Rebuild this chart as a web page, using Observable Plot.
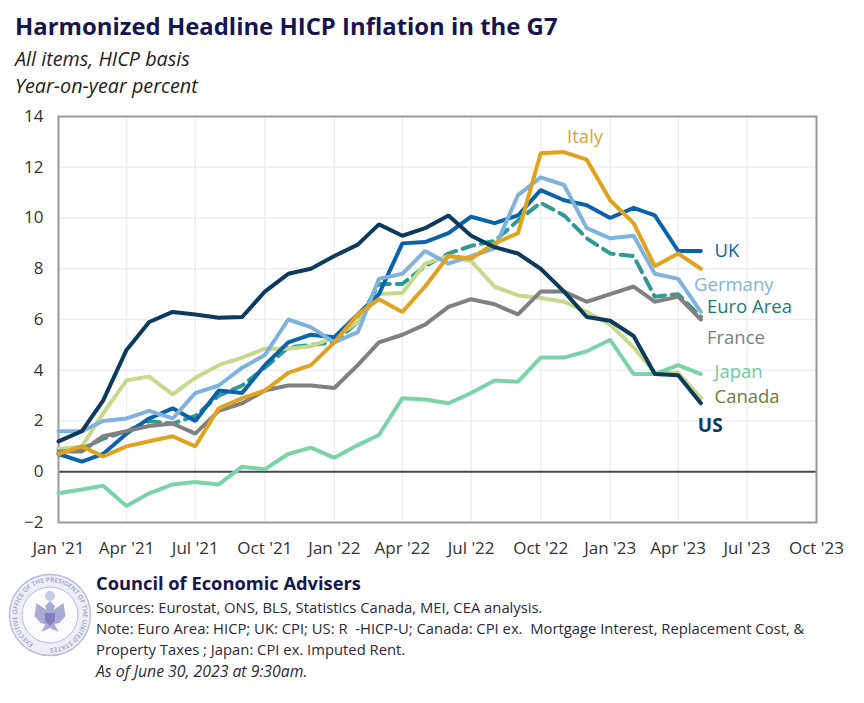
<!DOCTYPE html>
<html><head><meta charset="utf-8">
<script src="https://cdn.jsdelivr.net/npm/d3@7"></script>
<script src="https://cdn.jsdelivr.net/npm/@observablehq/plot@0.6"></script>
<style>
html,body{margin:0;padding:0;background:#fff;width:864px;height:703px;overflow:hidden}
body{font-family:"Open Sans",sans-serif;position:relative}
.t{position:absolute;white-space:pre;line-height:1}
#chart{position:absolute;left:0;top:100px}
#chart svg{display:block;background:transparent}
</style></head><body>
<div class="t" style="left:15px;top:14px;font-size:23.9px;font-weight:700;color:#16164f">Harmonized Headline HICP Inflation in the G7</div>
<div class="t" style="left:15px;top:49px;font-size:19.8px;font-style:italic;color:#222">All items, HICP basis</div>
<div class="t" style="left:15px;top:76px;font-size:19.8px;font-style:italic;color:#222">Year-on-year percent</div>
<div id="chart"></div>
<svg id="seal" style="position:absolute;left:8px;top:573px" width="84" height="84" viewBox="0 0 84 84">
  <defs><path id="arc" d="M42 42 m-33 0 a33 33 0 1 1 66 0 a33 33 0 1 1 -66 0"/></defs>
  <circle cx="42" cy="42" r="40.500" fill="#eeeef8" stroke="#b9bade" stroke-width="1.4"/>
  <circle cx="42" cy="42" r="28" fill="#fafaff" stroke="#b9bade" stroke-width="1"/>
  <text transform="rotate(-60 42 42)" font-size="6.4" fill="#9c9ecb" font-family="Open Sans" font-weight="600"><textPath href="#arc" textLength="190">EXECUTIVE OFFICE OF THE PRESIDENT OF THE UNITED STATES</textPath></text>
  <path d="M42 28 l5 5 l-1.500 4 l10 -7 l2 13 l-6 7 l-5 1 l4 8 l-8.500 -4 l-8.500 4 l4 -8 l-5 -1 l-6 -7 l2 -13 l10 7 l-1.500 -4z" fill="#a9abd6"/>
  <path d="M37 40 h10 v8 l-5 5 l-5 -5z" fill="#7e81bd"/>
  <circle cx="42" cy="23" r="5" fill="#c9cae6"/>
</svg>
<div class="t" style="left:96px;top:574px;font-size:18.3px;font-weight:700;color:#16164f">Council of Economic Advisers</div>
<div class="t" style="left:96px;top:600px;font-size:14.8px;color:#2a2a3c">Sources: Eurostat, ONS, BLS, Statistics Canada, MEI, CEA analysis.</div>
<div class="t" style="left:96px;top:621px;font-size:14.8px;color:#2a2a3c">Note: Euro Area: HICP; UK: CPI; US: R  -HICP-U; Canada: CPI ex.  Mortgage Interest, Replacement Cost, &amp;</div>
<div class="t" style="left:96px;top:642px;font-size:14.8px;color:#2a2a3c">Property Taxes ; Japan: CPI ex. Imputed Rent.</div>
<div class="t" style="left:96px;top:664px;font-size:15.8px;font-style:italic;color:#2a2a3c">As of June 30, 2023 at 9:30am.</div>
<script>
const us      = [1.2,1.6,2.8,4.8,5.9,6.3,6.2,6.07,6.1,7.1,7.8,8.0,8.5,8.95,9.75,9.3,9.6,10.1,9.3,8.85,8.6,8.0,7.1,6.1,5.95,5.35,3.85,3.8,2.7];
const uk      = [0.7,0.4,0.7,1.5,2.1,2.5,2.0,3.2,3.1,4.2,5.1,5.4,5.3,6.2,7.0,9.0,9.05,9.4,10.05,9.8,10.1,11.1,10.7,10.5,10.0,10.4,10.1,8.7,8.7];
const germany = [1.6,1.6,2.0,2.1,2.4,2.1,3.1,3.4,4.1,4.6,6.0,5.7,5.1,5.5,7.6,7.8,8.7,8.2,8.5,8.8,10.9,11.6,11.3,9.6,9.2,9.3,7.8,7.6,6.3];
const euro    = [0.9,0.9,1.3,1.6,2.0,1.9,2.2,3.0,3.4,4.1,4.9,5.0,5.1,5.9,7.4,7.4,8.1,8.6,8.9,9.1,9.9,10.6,10.1,9.2,8.6,8.5,6.9,7.0,6.1];
const italy   = [0.7,1.0,0.6,1.0,1.2,1.4,1.0,2.5,2.9,3.2,3.9,4.2,5.1,6.2,6.8,6.3,7.3,8.5,8.4,9.0,9.4,12.55,12.6,12.3,10.7,9.8,8.1,8.6,8.0];
const france  = [0.8,0.8,1.4,1.6,1.8,1.9,1.5,2.4,2.7,3.2,3.4,3.4,3.3,4.2,5.1,5.4,5.8,6.5,6.8,6.6,6.2,7.1,7.1,6.7,7.0,7.3,6.7,6.9,6.0];
const canada  = [0.9,1.0,2.3,3.6,3.75,3.05,3.7,4.2,4.5,4.85,4.85,4.95,5.3,5.9,7.0,7.05,8.2,8.5,8.3,7.3,6.95,6.85,6.7,6.3,5.8,4.9,3.9,3.9,2.9];
const japan   = [-0.85,-0.7,-0.55,-1.35,-0.85,-0.5,-0.4,-0.5,0.2,0.1,0.7,0.95,0.55,1.05,1.45,2.9,2.85,2.7,3.1,3.6,3.55,4.5,4.5,4.75,5.2,3.85,3.85,4.2,3.85];

const labelNames  = ["UK","Germany","Euro Area","France","Japan","Canada","Italy"];
const labelDates  = ["2023-05-19","2023-04-22","2023-05-09","2023-05-09","2023-05-19","2023-05-19","2022-11-05"];
const labelValues = [8.7,7.37,6.47,5.28,3.94,2.96,13.17];
const labelColors = ["#0a63a8","#7fb2dd","#1f7a74","#7f7f7f","#6fcaa0","#6f7a3a","#dca42e"];
const usLabel = [{name:"US",date:new Date("2023-04-27"),value:1.81}];

const yTicks = [-2,0,2,4,6,8,10,12,14];
const xTicks = d3.utcMonth.range(new Date(Date.UTC(2021,0,1)), new Date(Date.UTC(2023,10,1)), 3);
const months = d3.utcMonth.range(new Date(Date.UTC(2021,0,1)), new Date(Date.UTC(2023,5,1)));
const fmt = d => d3.utcFormat("%b '%y")(d);
const tbl = v => v.map((value,i)=>({date:months[i],value}));
const line = (v,stroke,extra={}) => Plot.lineY(tbl(v),{x:"date",y:"value",stroke,strokeWidth:4,strokeLinejoin:"miter",...extra});

const plot = Plot.plot({
  width:864,height:465,marginLeft:58,marginRight:48,marginTop:16,marginBottom:43,
  style:{fontFamily:"'Open Sans',sans-serif",fontSize:"16px",color:"#333",background:"transparent",overflow:"visible"},
  x:{type:"utc",domain:[new Date(Date.UTC(2021,0,1)),new Date(Date.UTC(2023,9,1))]},
  y:{domain:[-2,14]},
  marks:[
    Plot.gridX(xTicks,{stroke:"#eeeef0",strokeOpacity:1,strokeWidth:1.5}),
    Plot.gridY(yTicks,{stroke:"#eeeef0",strokeOpacity:1,strokeWidth:1.5}),
    Plot.axisX({ticks:xTicks,tickFormat:fmt,tickSize:0,tickPadding:19,label:null,fontSize:17}),
    Plot.axisY({ticks:yTicks,tickSize:0,tickPadding:15,label:null,fontSize:17}),
    Plot.ruleY([0],{stroke:"#44485a",strokeWidth:2}),
    Plot.frame({stroke:"#9a9a9a",strokeWidth:2}),
    line(euro,"#2f9a94",{strokeDasharray:"12,7"}),
    line(canada,"#c5d88c"),
    line(uk,"#0a63a8"),
    line(germany,"#7fb2dd"),
    line(france,"#808080"),
    line(japan,"#7dd3a8"),
    line(italy,"#e0a21f"),
    line(us,"#0b3a5c"),
    Plot.text(labelNames.map((name,i)=>({name,date:new Date(labelDates[i]),value:labelValues[i],color:labelColors[i]})),{
      x:"date",y:"value",text:"name",fill:"color",textAnchor:"start",fontSize:18.5
    }),
    Plot.text(usLabel,{x:"date",y:"value",text:"name",fill:"#0b3a5c",textAnchor:"start",fontSize:19,fontWeight:700})
  ]
});
document.getElementById("chart").appendChild(plot);
</script>
</body></html>
